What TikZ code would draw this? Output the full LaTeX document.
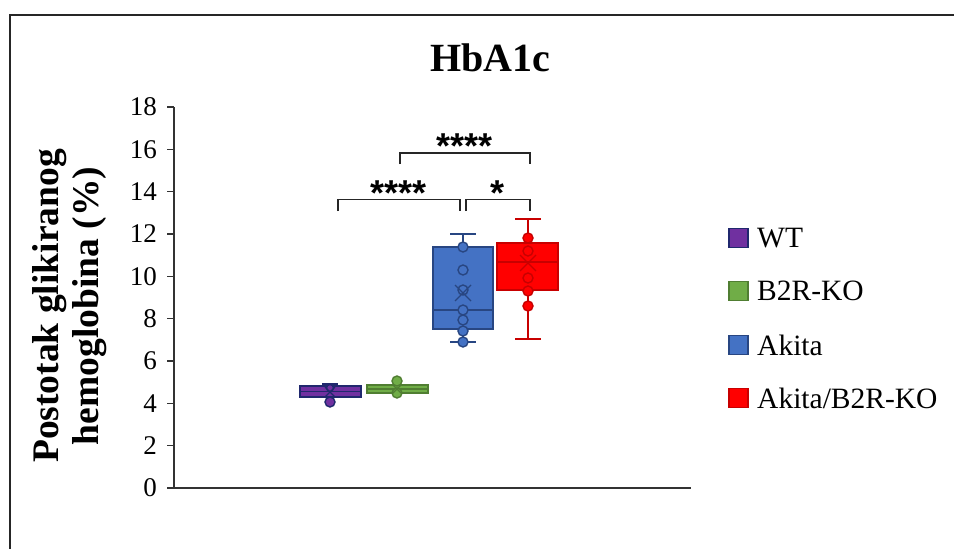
\documentclass[tikz,border=0pt]{standalone}
\usepackage{fontspec}
\setmainfont{Liberation Serif}
\newfontfamily\starfont{Liberation Sans}
\begin{document}
\begin{tikzpicture}[x=1pt,y=-1pt]
\definecolor{wtf}{RGB}{112,48,160}\definecolor{wtd}{RGB}{32,40,110}
\definecolor{kof}{RGB}{112,173,71}\definecolor{kod}{RGB}{80,126,50}
\definecolor{akf}{RGB}{68,114,196}\definecolor{akd}{RGB}{40,70,130}
\definecolor{rdf}{RGB}{255,0,0}\definecolor{rdd}{RGB}{200,0,0}
\tikzset{
  axisline/.style={line width=1.6pt,draw=black!80},
  tick/.style={font=\fontsize{27}{27}\selectfont,anchor=east,inner sep=0pt},
  boxst/.style={line width=1.6pt},
  pt/.style={line width=1.4pt},
  bracket/.style={line width=1.5pt,draw=black!85},
  stars/.style={font=\starfont\bfseries\fontsize{36}{36}\selectfont,inner sep=0pt,anchor=base},
  legsq/.style={minimum size=19pt,inner sep=0pt,line width=1.2pt},
  legtx/.style={font=\fontsize{29.5}{29.5}\selectfont,anchor=west,inner sep=0pt}
}
\useasboundingbox (0,0) rectangle (954,549);
\fill[white] (0,0) rectangle (954,549);
% frame
\draw[line width=2pt,draw=black!85] (9.5,570) -- (9.5,14.5) -- (970,14.5);
% title
\node[font=\bfseries\fontsize{40}{40}\selectfont,inner sep=0pt] (title) at (490,58) {HbA1c};
% y label
\node[font=\bfseries\fontsize{37.5}{40}\selectfont,rotate=90,align=center,inner sep=0pt] (ylab) at (70,306) {Postotak glikiranog\\hemoglobina (\%)};
% axes
\coordinate (o) at (174,488);
\coordinate (ytop) at (174,107);
\coordinate (xend) at (691,488);
\draw[axisline] (ytop) -- (o) -- (xend);
\foreach \v in {0,2,...,18}{
  \pgfmathsetmacro{\yy}{488-21.167*\v}
  \draw[axisline] (167,\yy) -- (174,\yy);
  \node[tick] at (157,\yy) {\v};
}
% ---- WT box (center 330)
\draw[boxst,wtd] (330,402) -- (330,384);
\draw[boxst,wtd] (322,384) -- (338,384);
\filldraw[boxst,fill=wtf,draw=wtd] (300,386) rectangle (361,397);
\draw[boxst,wtd] (300,391.5) -- (361,391.5);
\filldraw[pt,fill=wtf,draw=wtd] (330,402) circle (5);
\filldraw[pt,fill=wtf,draw=wtd] (330,388) circle (3.5);
\draw[pt,wtd] (325,387) -- (335,397) (335,387) -- (325,397);
% ---- B2R-KO box (center 397)
\draw[boxst,kod] (397,381) -- (397,393);
\filldraw[boxst,fill=kof,draw=kod] (367,385) rectangle (428,393);
\draw[boxst,kod] (367,389) -- (428,389);
\filldraw[pt,fill=kof,draw=kod] (397,381) circle (5);
\filldraw[pt,fill=kof,draw=kod] (397,393) circle (5);
\draw[pt,kod] (392,384) -- (402,394) (402,384) -- (392,394);
% ---- Akita box (center 463)
\draw[boxst,akd] (463,234) -- (463,342);
\draw[boxst,akd] (450,234) -- (476,234);
\draw[boxst,akd] (450,342) -- (476,342);
\filldraw[boxst,fill=akf,draw=akd] (433,247) rectangle (493,329);
\draw[boxst,akd] (433,310) -- (493,310);
\foreach \p in {247,270,290,310,320,331,342}{
  \filldraw[pt,fill=akf,draw=akd] (463,\p) circle (5);
}
\draw[pt,akd] (455,285) -- (471,301) (471,285) -- (455,301);
% ---- Akita/B2R-KO box (center 528)
\draw[boxst,rdd] (528,219) -- (528,339);
\draw[boxst,rdd] (515,219) -- (541,219);
\draw[boxst,rdd] (515,339) -- (541,339);
\filldraw[boxst,fill=rdf,draw=rdd] (497,243) rectangle (558,290);
\draw[boxst,rdd] (497,262) -- (558,262);
\foreach \p in {238,251,278,291,306}{
  \filldraw[pt,fill=rdf,draw=rdd] (528,\p) circle (5);
}
\draw[pt,rdd] (520,255) -- (536,271) (536,255) -- (520,271);
% ---- brackets
\coordinate (b1a) at (338,211); \coordinate (b1b) at (460,211);
\coordinate (b2a) at (466,211); \coordinate (b2b) at (530,211);
\coordinate (b3a) at (400,164); \coordinate (b3b) at (530,164);
\draw[bracket] (b1a) -- (338,199.5) -- (460,199.5) -- (b1b);
\draw[bracket] (b2a) -- (466,199.5) -- (530,199.5) -- (b2b);
\draw[bracket] (b3a) -- (400,153) -- (530,153) -- (b3b);
\node[stars] (s1) at (399,205) {****};
\node[stars] (s2) at (498,205) {*};
\node[stars] (s3) at (465,158) {****};
% ---- legend
\foreach \c/\d/\t/\y in {wtf/wtd/WT/238,kof/kod/B2R-KO/291,akf/akd/Akita/345,rdf/rdd/Akita\slash B2R-KO/398}{
  \node[legsq,fill=\c,draw=\d] at (738.5,\y) {};
  \node[legtx] at (757,\y) {\t};
}
\end{tikzpicture}
\end{document}
